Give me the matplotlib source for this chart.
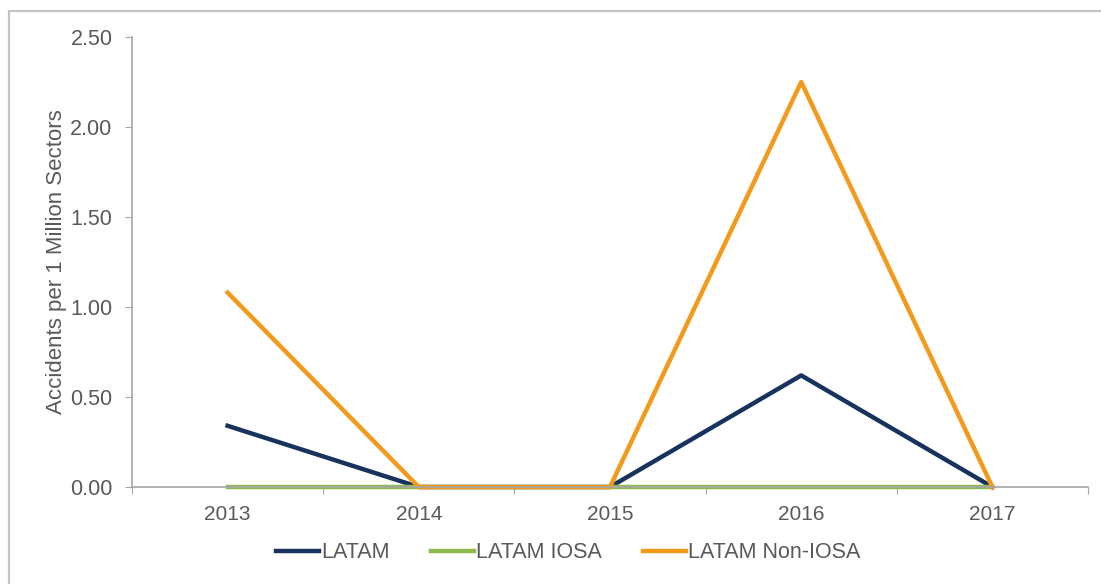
import numpy as np
import matplotlib.pyplot as plt
from matplotlib.patches import Rectangle

plt.rcParams['font.family'] = ['Liberation Sans', 'DejaVu Sans']

years = ['2013', '2014', '2015', '2016', '2017']
latam = [0.34, 0.00, 0.00, 0.62, 0.00]
latam_iosa = [0.00, 0.00, 0.00, 0.00, 0.00]
latam_non_iosa = [1.08, 0.00, 0.00, 2.25, 0.00]

grey_txt = '#595959'
axis_col = '#a6a6a6'

fig = plt.figure(figsize=(11.01, 5.84), dpi=100)
ax = fig.add_axes([132 / 1101, 97 / 584, 956 / 1101, 450 / 584])

x = np.arange(len(years))
ax.plot(x, latam, color='#17325c', lw=3.2, label='LATAM', clip_on=False)
ax.plot(x, latam_iosa, color='#8dbb4f', lw=3.2, label='LATAM IOSA', clip_on=False)
ax.plot(x, latam_non_iosa, color='#f39a1c', lw=3.2, label='LATAM Non-IOSA', clip_on=False)

ax.set_xlim(-0.5, len(years) - 0.5)
ax.set_ylim(0, 2.5)
ax.set_yticks(np.arange(0, 2.51, 0.5))
ax.set_yticklabels([f'{v:.2f}' for v in np.arange(0, 2.51, 0.5)])

# category boundaries get tick marks, labels sit in the middle
ax.set_xticks(np.arange(-0.5, len(years), 1.0))
ax.set_xticklabels([])
ax.set_xticks(x, minor=True)
ax.set_xticklabels(years, minor=True)
ax.tick_params(axis='x', which='major', length=5, color=axis_col, direction='out')
ax.tick_params(axis='x', which='minor', length=0, pad=13, labelsize=15, labelcolor=grey_txt)
ax.tick_params(axis='y', length=5, color=axis_col, pad=9, labelsize=15.5, labelcolor=grey_txt)

for s in ['top', 'right']:
    ax.spines[s].set_visible(False)
for s in ['left', 'bottom']:
    ax.spines[s].set_color(axis_col)
    ax.spines[s].set_linewidth(1.2)

ax.set_ylabel('Accidents per 1 Million Sectors', fontsize=16, color=grey_txt, labelpad=2)

ax.legend(loc='center', bbox_to_anchor=(568 / 1101, 31 / 584), bbox_transform=fig.transFigure,
          ncol=3, frameon=False, fontsize=15.5, handlelength=2.0, handletextpad=0.1,
          columnspacing=1.9, labelcolor=grey_txt)

# outer frame (only top and left edges fall inside the picture)
fig.patches.append(Rectangle((9 / 1101, -0.1), 1.2, 0.1 + 573 / 584, transform=fig.transFigure,
                             fill=False, edgecolor='#c4c4c4', lw=1.6))

fig.savefig('out.png', dpi=100)
